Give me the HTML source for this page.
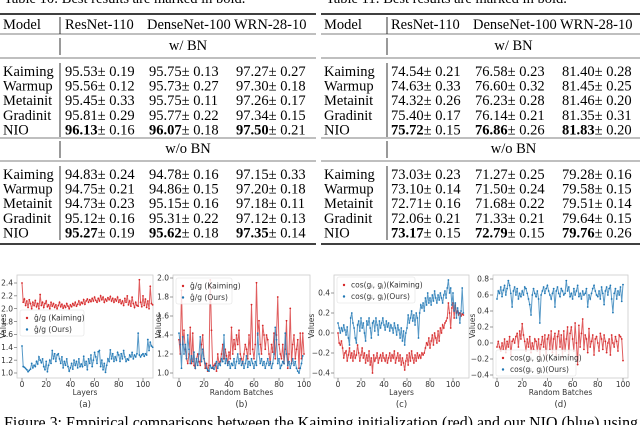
<!DOCTYPE html>
<html><head><meta charset="utf-8">
<style>
html,body{margin:0;padding:0;background:#fff;width:640px;height:425px;overflow:hidden}
svg{display:block}
.t{font-family:"Liberation Serif",serif;font-size:14.5px;fill:#000}
.tk{font-family:"DejaVu Sans","Liberation Sans",sans-serif;font-size:7.5px;fill:#333}
.lg{font-family:"DejaVu Sans","Liberation Sans",sans-serif;font-size:7.5px;fill:#333}
</style></head>
<body>
<svg id="root" width="640" height="425" viewBox="0 0 640 425" xmlns="http://www.w3.org/2000/svg">
<text class="t" x="4" y="3">Table 10: Best results are marked in bold.</text>
<text class="t" x="326" y="3">Table 11: Best results are marked in bold.</text>
<g id="tables"></g>
<g id="charts"></g>
<text class="t" x="4" y="428" style="font-size:17px" textLength="634" lengthAdjust="spacingAndGlyphs">Figure 3: Empirical comparisons between the Kaiming initialization (red) and our NIO (blue) using</text>
</svg>
<script>
// ---- table data ----
const methods = ["Kaiming","Warmup","Metainit","Gradinit","NIO"];
const leftBN = [["95.53","0.19","95.75","0.13","97.27","0.27"],["95.56","0.12","95.73","0.27","97.30","0.18"],["95.45","0.33","95.75","0.11","97.26","0.17"],["95.81","0.29","95.77","0.22","97.34","0.15"],["96.13","0.16","96.07","0.18","97.50","0.21"]];
const leftNoBN = [["94.83","0.24","94.78","0.16","97.15","0.33"],["94.75","0.21","94.86","0.15","97.20","0.18"],["94.73","0.23","95.15","0.16","97.18","0.11"],["95.12","0.16","95.31","0.22","97.12","0.13"],["95.27","0.19","95.62","0.18","97.35","0.14"]];
const rightBN = [["74.54","0.21","76.58","0.23","81.40","0.28"],["74.63","0.33","76.60","0.32","81.45","0.25"],["74.32","0.26","76.23","0.28","81.46","0.20"],["75.40","0.17","76.14","0.21","81.35","0.31"],["75.72","0.15","76.86","0.26","81.83","0.20"]];
const rightNoBN = [["73.03","0.23","71.27","0.25","79.28","0.16"],["73.10","0.14","71.50","0.24","79.58","0.15"],["72.71","0.16","71.68","0.22","79.51","0.14"],["72.06","0.21","71.33","0.21","79.64","0.15"],["73.17","0.15","72.79","0.15","79.76","0.26"]];
const headers = ["ResNet-110","DenseNet-100","WRN-28-10"];

// ---- chart data ----
const aRed = [2.40,2.10,2.15,2.05,2.12,2.02,2.14,2.08,2.00,2.10,2.05,2.13,2.03,2.08,2.00,2.22,2.05,2.10,2.02,2.08,2.12,2.03,2.06,2.00,2.10,2.04,2.08,2.02,2.06,2.00,2.05,2.10,2.03,2.07,2.01,2.05,2.02,2.08,2.04,2.00,2.06,2.03,2.08,2.05,2.10,2.04,2.07,2.12,2.06,2.10,2.08,2.14,2.07,2.12,2.15,2.10,2.14,2.11,2.16,2.12,2.18,2.13,2.10,2.16,2.12,2.20,2.14,2.18,2.10,2.15,2.12,2.17,2.14,2.19,2.12,2.16,2.10,2.15,2.12,2.18,2.10,2.14,2.08,2.12,2.05,2.16,2.10,2.20,2.06,2.12,2.04,2.18,2.08,2.02,2.10,2.05,2.04,2.45,2.10,2.03,2.20,2.05,2.15,2.02,2.12,2.00,2.35,2.08,2.06];
const aBlue = [1.42,1.10,1.09,1.07,1.05,1.02,1.04,1.06,1.15,1.08,1.12,1.10,1.18,1.14,1.25,1.20,1.16,1.22,1.10,1.05,1.18,1.02,1.12,1.20,1.15,1.35,1.22,1.30,1.18,1.28,1.30,1.22,1.15,1.25,1.08,1.18,1.12,1.22,1.10,1.03,1.08,1.15,1.06,1.20,1.12,1.18,1.08,1.22,1.10,1.14,1.10,1.26,1.12,1.18,1.05,1.22,1.15,1.28,1.10,1.20,1.32,1.25,1.15,1.33,1.35,1.10,1.20,1.05,1.15,1.01,1.12,1.22,1.18,1.36,1.22,1.30,1.18,1.25,1.20,1.32,1.28,1.18,1.30,1.22,1.35,1.25,1.18,1.22,1.20,1.28,1.25,1.32,1.22,1.28,1.25,1.30,1.62,1.28,1.25,1.28,1.30,1.26,1.30,1.28,1.52,1.35,1.48,1.42,1.40];
const bRed = [1.35,1.20,1.87,1.30,1.45,1.25,1.15,1.10,1.20,1.48,1.10,1.42,1.08,1.05,1.15,1.20,1.12,1.08,1.30,1.40,1.15,1.05,1.10,1.02,1.08,1.98,1.45,1.05,1.08,1.10,1.02,1.20,1.10,1.12,1.20,1.30,1.15,1.25,1.18,1.10,1.22,1.15,1.48,1.20,1.35,1.25,1.40,1.30,1.45,1.20,1.15,1.10,1.20,1.30,1.25,1.15,1.40,1.20,1.72,1.25,1.15,1.30,1.95,1.40,1.55,1.30,1.20,1.50,1.40,1.25,1.40,1.35,1.20,1.10,1.30,1.22,1.42,1.15,1.40,1.80,1.30,1.20,1.15,1.30,1.10,1.25,1.55,1.05,1.20,1.68,1.10,1.30,1.40,1.15,1.25,1.35,1.05,1.42,1.15,1.42,1.20];
const bBlue = [1.42,1.30,1.05,1.38,1.20,1.30,1.15,1.40,1.25,1.10,1.18,1.12,1.22,1.05,1.15,1.08,1.20,1.38,1.12,1.25,1.15,1.10,1.05,1.03,1.02,1.08,1.05,1.06,1.04,1.08,1.12,1.05,1.10,1.08,1.15,1.12,1.40,1.10,1.15,1.08,1.12,1.05,1.10,1.08,1.15,1.05,1.12,1.20,1.10,1.15,1.08,1.12,1.05,1.10,1.18,1.06,1.12,1.08,1.15,1.10,1.05,1.12,1.08,1.42,1.20,1.10,1.15,1.08,1.12,1.05,1.10,1.15,1.08,1.12,1.05,1.10,1.20,1.48,1.35,1.10,1.15,1.05,1.08,1.12,1.10,1.42,1.20,1.08,1.12,1.05,1.10,1.15,1.08,1.12,1.05,1.02,1.00,1.05,1.10,1.18];
const cBlue = [0.10,0.05,0.00,0.05,0.02,0.08,0.03,-0.02,0.06,-0.05,-0.12,0.15,0.20,0.10,0.05,-0.05,-0.10,0.08,0.12,0.02,0.15,0.05,0.10,0.00,-0.08,0.12,0.08,0.15,0.05,-0.05,0.10,0.12,0.02,0.15,0.08,-0.02,0.12,0.05,0.10,0.15,0.08,0.03,0.12,0.06,0.10,0.02,0.08,0.05,0.00,0.10,0.05,-0.02,0.08,0.03,-0.05,0.05,-0.08,0.02,-0.12,0.00,0.05,0.18,0.10,0.15,0.22,0.12,0.18,0.08,0.20,0.15,-0.05,0.20,0.28,0.25,0.30,0.22,0.35,0.28,0.40,0.30,0.35,0.28,0.38,0.32,0.42,0.35,0.30,0.38,0.33,0.40,0.35,0.30,0.38,0.42,0.35,0.45,0.53,0.40,0.45,0.28,0.40,0.22,0.30,0.15,0.25,0.20,0.10,0.22,0.45,0.20];
const cRed = [0.00,-0.10,-0.12,-0.08,-0.15,-0.25,-0.20,-0.18,-0.28,-0.22,-0.15,-0.25,-0.20,-0.28,-0.18,-0.25,-0.22,-0.12,-0.20,-0.28,-0.22,-0.15,-0.25,-0.20,-0.30,-0.22,-0.28,-0.18,-0.32,-0.25,-0.40,-0.22,-0.28,-0.25,-0.20,-0.30,-0.25,-0.22,-0.28,-0.20,-0.25,-0.28,-0.22,-0.30,-0.25,-0.20,-0.28,-0.22,-0.25,-0.18,-0.30,-0.25,-0.20,-0.28,-0.22,-0.32,-0.25,-0.30,-0.37,-0.28,-0.22,-0.32,-0.20,-0.28,-0.18,-0.25,-0.30,-0.22,-0.28,-0.20,-0.25,-0.22,-0.25,-0.20,-0.22,-0.20,-0.15,-0.10,-0.12,-0.05,-0.15,-0.08,-0.02,-0.12,0.00,-0.05,-0.10,0.02,-0.08,0.05,0.00,0.08,0.05,0.10,0.12,0.15,0.30,0.20,0.05,0.25,0.30,0.15,0.28,0.20,0.22,0.18,0.20,0.17,0.19,0.18];
const dBlue = [0.55,0.65,0.62,0.70,0.58,0.66,0.72,0.60,0.68,0.78,0.72,0.62,0.45,0.65,0.70,0.60,0.68,0.55,0.62,0.58,0.65,0.60,0.70,0.68,0.62,0.55,0.48,0.35,0.60,0.68,0.62,0.58,0.65,0.55,0.25,0.60,0.65,0.70,0.62,0.68,0.72,0.65,0.60,0.55,0.62,0.68,0.45,0.65,0.70,0.62,0.58,0.68,0.65,0.60,0.62,0.78,0.65,0.70,0.58,0.62,0.55,0.68,0.60,0.65,0.72,0.58,0.62,0.55,0.65,0.60,0.62,0.68,0.45,0.60,0.55,0.62,0.68,0.72,0.65,0.60,0.58,0.65,0.55,0.70,0.62,0.48,0.65,0.70,0.60,0.68,0.72,0.55,0.38,0.62,0.68,0.55,0.65,0.60,0.70,0.52,0.73];
const dRed = [-0.05,0.02,-0.05,-0.10,0.00,-0.08,0.05,-0.12,0.02,-0.05,0.08,-0.15,0.02,0.05,0.00,0.08,0.12,-0.05,0.15,0.05,0.24,0.10,0.02,-0.10,0.05,-0.05,0.08,-0.12,0.00,-0.08,0.05,0.02,-0.10,0.05,-0.15,-0.02,0.08,-0.05,0.10,-0.20,0.05,0.10,-0.08,0.15,-0.12,0.05,0.12,-0.15,0.08,0.15,-0.05,0.10,-0.18,0.15,-0.10,0.05,0.20,-0.15,0.12,0.20,0.05,-0.10,0.25,0.00,-0.27,0.22,-0.05,0.12,0.30,-0.08,0.10,0.05,-0.12,0.18,-0.05,0.02,0.10,-0.15,0.05,0.08,0.00,-0.10,0.12,0.05,-0.08,0.10,0.02,-0.12,0.00,0.05,-0.15,0.10,0.00,-0.05,0.08,0.02,-0.10,0.10,0.08,0.05,-0.22];
const aYTicks = [1.0,1.2,1.4,1.6,1.8,2.0,2.2,2.4];
const bYTicks = [1.0,1.2,1.4,1.6,1.8,2.0];
const cYTicks = [-0.4,-0.2,0.0,0.2,0.4];
const dYTicks = [-0.4,-0.2,0.0,0.2,0.4,0.6,0.8];
const xTicks = [0,20,40,60,80,100];

const NS = "http://www.w3.org/2000/svg";
function mk(tag, attrs, parent, text){
  const e = document.createElementNS(NS, tag);
  for (const k in attrs) e.setAttribute(k, attrs[k]);
  if (text !== undefined) e.textContent = text;
  parent.appendChild(e); return e;
}

// ---- tables ----
const tg = document.getElementById('tables');
function table(x0, w, sep, colX, bn, nobn, name){
  const g = mk('g', {}, tg);
  
  
  const rule = (y, sw) => { const l = mk('line', {x1:x0, x2:x0+w, y1:y, y2:y, stroke:'#000', 'stroke-width':sw}, g);   };
  const vbar = (y1, y2) => { const l = mk('line', {x1:sep, x2:sep, y1:y1, y2:y2, stroke:'#000', 'stroke-width':0.8}, g);   };
  rule(14, 1.4);
  const hm = mk('text', {class:'t', x:x0+3, y:29}, g, 'Model');
   
  headers.forEach((h,i)=>{ const t = mk('text',{class:'t', x:colX[i], y:29}, g, h);   });
  vbar(17, 34);
  rule(34, 0.6);
  const section = (label, y0, rows) => {
    const s = mk('text', {class:'t', x:(sep + x0 + w)/2, y:y0+14, 'text-anchor':'middle'}, g, label);
     
    vbar(y0+2, y0+19);
    rule(y0+22, 0.6);
    rows.forEach((r, i) => {
      const y = y0 + 40 + i*14.6;
      const m = mk('text', {class:'t', x:x0+3, y:y}, g, methods[i]);
       
      for (let c=0;c<3;c++){
        const t = mk('text', {class:'t', x:colX[c]+ (c?2:0), y:y}, g);
         
        mk('tspan', {'font-weight': i===4 ? 'bold' : 'normal'}, t, r[c*2]);
        mk('tspan', {}, t, '\u00b1 ' + r[c*2+1]);
      }
    });
    vbar(y0+27, y0+101);
  };
  section('w/ BN', 36, bn);
  rule(138, 0.6);
  section('w/o BN', 139, nobn);
  rule(244, 1.4);
}
table(0, 316, 60, [65, 147, 234], leftBN, leftNoBN, 'cifar10-table');
table(321, 319, 387, [391, 473, 560], rightBN, rightNoBN, 'cifar100-table');

// ---- charts ----
const cg = document.getElementById('charts');
const RED = '#d62728', BLUE = '#1f77b4';
function chart(cfg){
  const g = mk('g', {}, cg);
  
  
  const sx = v => cfg.x0px + (v - 0) * (cfg.x100px - cfg.x0px) / 100;
  const sy = v => cfg.yApx + (v - cfg.yA) * (cfg.yBpx - cfg.yApx) / (cfg.yB - cfg.yA);
  const box = mk('rect', {x:cfg.L, y:275, width:cfg.R-cfg.L, height:103, fill:'#fff', stroke:'#ccc', 'stroke-width':0.8}, g);
   
  cfg.yt.forEach(v=>{
    const y = sy(v);
    const tl = mk('line',{x1:cfg.L-3,x2:cfg.L,y1:y,y2:y,stroke:'#555','stroke-width':0.6},g);
     
    const t = mk('text',{class:'tk', x:cfg.L-4, y:y+2.7, 'text-anchor':'end'}, g, (v<0?'\u2212':'') + Math.abs(v).toFixed(1));
     
  });
  xTicks.forEach(v=>{
    const x = sx(v);
    const tl = mk('line',{x1:x,x2:x,y1:378,y2:381,stroke:'#555','stroke-width':0.6},g);
     
    const t = mk('text',{class:'tk', x:x, y:387, 'text-anchor':'middle'}, g, String(v));
     
  });
  const xl = mk('text',{class:'tk', x:(cfg.L+cfg.R)/2, y:395, 'text-anchor':'middle'}, g, cfg.xlabel);
   
  const yl = mk('text',{class:'tk', x:0, y:0, 'text-anchor':'middle', transform:`translate(${cfg.ylx},326) rotate(-90)`}, g, 'Values');
   
  const sub = mk('text',{class:'tk', x:(cfg.L+cfg.R)/2, y:407, 'text-anchor':'middle', style:'font-size:8.5px'}, g, cfg.sub);
   
  cfg.series.forEach(s=>{
    const pts = s.data.map((v,i)=>sx(i).toFixed(2)+','+sy(v).toFixed(2)).join(' ');
    const pl = mk('polyline',{points:pts, fill:'none', stroke:s.color, 'stroke-width':1, 'stroke-opacity':0.75}, g);
     
    s.data.forEach((v,i)=>{
      const c = mk('circle',{cx:sx(i), cy:sy(v), r:0.9, fill:s.color}, g);
       
    });
  });
  const lgd = mk('g',{},g);
   
  const lb = mk('rect',{x:cfg.lg[0], y:cfg.lg[1], width:cfg.lg[2], height:26, fill:'#fff', 'fill-opacity':0.8, stroke:'#e0e0e0','stroke-width':0.6, rx:2}, lgd);
   
  cfg.series.forEach((s,i)=>{
    const y = cfg.lg[1] + 8 + i*11.5;
    const d = mk('circle',{cx:cfg.lg[0]+7, cy:y, r:1.2, fill:s.color}, lgd);
     
    const t = mk('text',{class:'lg', x:cfg.lg[0]+14, y:y+2.6}, lgd, cfg.labels[i]);
     
  });
}
chart({name:'chart-a-layers', L:17, R:153, x0px:22, x100px:143, yA:1.0, yApx:373, yB:2.4, yBpx:283, yt:aYTicks, xlabel:'Layers', sub:'(a)', ylx:6,
  series:[{name:'kaiming',color:RED,data:aRed},{name:'ours',color:BLUE,data:aBlue}], lg:[20,310,64], labels:['g\u0302/g (Kaiming)','g\u0302/g (Ours)']});
chart({name:'chart-b-batches', L:173, R:310, x0px:179, x100px:304, yA:1.0, yApx:373, yB:2.0, yBpx:278, yt:bYTicks, xlabel:'Random Batches', sub:'(b)', ylx:161,
  series:[{name:'kaiming',color:RED,data:bRed},{name:'ours',color:BLUE,data:bBlue}], lg:[176,278,56], labels:['g\u0302/g (Kaiming)','g\u0302/g (Ours)']});
chart({name:'chart-c-layers', L:334, R:469, x0px:338, x100px:453, yA:0.0, yApx:333, yB:0.4, yBpx:293, yt:cYTicks, xlabel:'Layers', sub:'(c)', ylx:314,
  series:[{name:'kaiming',color:RED,data:cRed},{name:'ours',color:BLUE,data:cBlue}], lg:[337,277,78], labels:['cos(g\u1d62, g\u2c7c)(Kaiming)','cos(g\u1d62, g\u2c7c)(Ours)']});
chart({name:'chart-d-batches', L:493, R:628, x0px:497, x100px:623, yA:0.8, yApx:279, yB:-0.4, yBpx:375, yt:dYTicks, xlabel:'Random Batches', sub:'(d)', ylx:475,
  series:[{name:'kaiming',color:RED,data:dRed},{name:'ours',color:BLUE,data:dBlue}], lg:[496,350,80], labels:['cos(g\u1d62, g\u2c7c)(Kaiming)','cos(g\u1d62, g\u2c7c)(Ours)']});
</script>
</body></html>
